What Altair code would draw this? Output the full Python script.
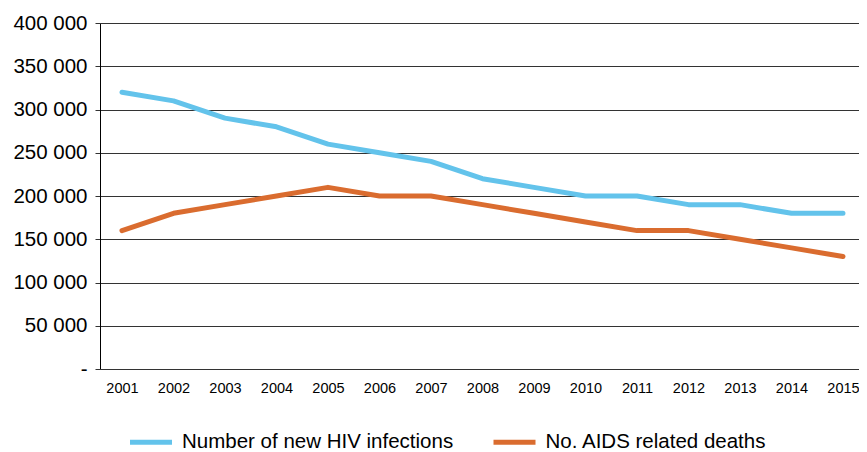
import altair as alt
import pandas as pd

years = list(range(2001, 2016))
hiv = [320000, 310000, 290000, 280000, 260000, 250000, 240000, 220000, 210000, 200000, 200000, 190000, 190000, 180000, 180000]
aids = [160000, 180000, 190000, 200000, 210000, 200000, 200000, 190000, 180000, 170000, 160000, 160000, 150000, 140000, 130000]
series = ["Number of new HIV infections", "No. AIDS related deaths"]
colors = ["#63C3EB", "#DA6C2F"]
y_ticks = [0, 50000, 100000, 150000, 200000, 250000, 300000, 350000, 400000]

rows = []
for i, yr in enumerate(years):
    rows.append({"year": yr, "value": hiv[i], "series": series[0]})
    rows.append({"year": yr, "value": aids[i], "series": series[1]})
df = pd.DataFrame(rows)

chart = alt.Chart(df).mark_line(strokeWidth=5, strokeCap="round", strokeJoin="round").encode(
    x=alt.X("year:Q", title=None,
            scale=alt.Scale(domain=[2000.573, 2015.311], nice=False, zero=False),
            axis=alt.Axis(values=years, format="d", ticks=False, domain=False, grid=False,
                          labelFont="Liberation Sans, Arial", labelFontSize=14.5, labelColor="#000",
                          labelPadding=12, labelFlush=False, labelOverlap=False)),
    y=alt.Y("value:Q", title=None,
            scale=alt.Scale(domain=[0, 400000], nice=False),
            axis=alt.Axis(values=y_ticks, grid=True, gridColor="#333", gridWidth=1,
                          domain=True, domainColor="#000", domainWidth=1,
                          ticks=True, tickSize=5, tickColor="#333",
                          labelFont="Liberation Sans, Arial", labelFontSize=20.5, labelColor="#000",
                          labelPadding=8,
                          labelExpr="datum.value == 0 ? '-' : replace(format(datum.value, ','), regexp(',', 'g'), ' ')")),
    color=alt.Color("series:N", sort=series,
                    scale=alt.Scale(domain=series, range=colors),
                    legend=alt.Legend(title=None, orient="none", direction="horizontal",
                                      legendX=38, legendY=406,
                                      symbolType="M-2,0H2", symbolSize=441, symbolStrokeWidth=5,
                                      labelFont="Liberation Sans, Arial", labelFontSize=20.5, labelColor="#000",
                                      labelOffset=18, columnPadding=29.5, labelLimit=400)),
).properties(
    width=759, height=346,
    autosize=alt.AutoSizeParams(type="none"),
    padding={"left": 92, "top": 15, "right": 0, "bottom": 85},
).configure_view(stroke=None)

chart.save("out.html", embed_options={"renderer": "svg", "actions": False})
